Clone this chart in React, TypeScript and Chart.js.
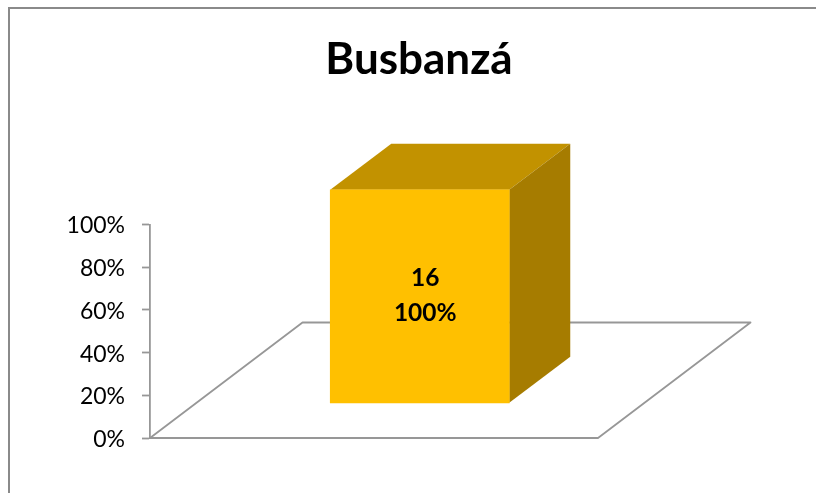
import React, { useEffect, useRef } from "react";
import { Chart, registerables } from "chart.js";

Chart.register(...registerables);

const categories = ["Busbanzá"];
const percentValues = [100];
const countValues = [16];
const yTickStep = 20;

const FONT = "Lato, Carlito, 'Open Sans', sans-serif";
const DEPTH_X = 152.5;
const DEPTH_Y = 115.5;
const BAR_FRONT = 0.3;
const BAR_BACK = 0.7;
const FRONT_COLOR = "#FFC000";
const TOP_COLOR = "#C29200";
const SIDE_COLOR = "#A67C00";
const LINE_COLOR = "#979797";
const FRAME_COLOR = "#8A8A8A";

const poly = (ctx: CanvasRenderingContext2D, pts: number[][], fill: string) => {
  ctx.beginPath();
  pts.forEach(([x, y], i) => (i ? ctx.lineTo(x, y) : ctx.moveTo(x, y)));
  ctx.closePath();
  ctx.fillStyle = fill;
  ctx.fill();
};

const bar3d = {
  id: "bar3d",
  beforeDraw(chart: any) {
    const { ctx } = chart;
    ctx.save();
    ctx.strokeStyle = FRAME_COLOR;
    ctx.lineWidth = 2;
    ctx.beginPath();
    ctx.moveTo(9, 493);
    ctx.lineTo(9, 8);
    ctx.lineTo(816, 8);
    ctx.stroke();
    ctx.fillStyle = "#000";
    ctx.font = `bold 44px ${FONT}`;
    ctx.textAlign = "center";
    ctx.textBaseline = "alphabetic";
    ctx.fillText(categories[0], 419, 74);
    ctx.restore();
  },
  beforeDatasetsDraw(chart: any) {
    const { ctx, chartArea: a } = chart;
    ctx.save();
    ctx.strokeStyle = LINE_COLOR;
    ctx.lineWidth = 1.8;
    ctx.lineJoin = "round";
    ctx.beginPath();
    ctx.moveTo(a.left, a.bottom);
    ctx.lineTo(a.left + DEPTH_X, a.bottom - DEPTH_Y);
    ctx.lineTo(a.right + DEPTH_X, a.bottom - DEPTH_Y);
    ctx.lineTo(a.right, a.bottom);
    ctx.closePath();
    ctx.stroke();
    ctx.restore();
  },
  beforeDatasetDraw(chart: any, args: any) {
    const { ctx } = chart;
    const el = chart.getDatasetMeta(args.index).data[0];
    const p = el.getProps(["x", "y", "base", "width"]);
    const fx = DEPTH_X * BAR_FRONT;
    const fy = -DEPTH_Y * BAR_FRONT;
    const bx = DEPTH_X * BAR_BACK;
    const by = -DEPTH_Y * BAR_BACK;
    const l = p.x - p.width / 2;
    const r = p.x + p.width / 2;
    poly(ctx, [
      [l + fx, p.y + fy],
      [r + fx, p.y + fy],
      [r + bx, p.y + by],
      [l + bx, p.y + by],
    ], TOP_COLOR);
    poly(ctx, [
      [r + fx, p.y + fy],
      [r + bx, p.y + by],
      [r + bx, p.base + by],
      [r + fx, p.base + fy],
    ], SIDE_COLOR);
    ctx.save();
    ctx.translate(fx, fy);
  },
  afterDatasetDraw(chart: any, args: any) {
    const { ctx } = chart;
    ctx.restore();
    const el = chart.getDatasetMeta(args.index).data[0];
    const p = el.getProps(["x", "y", "base"]);
    const cx = p.x + DEPTH_X * BAR_FRONT + 5.5;
    const cy = (p.y + p.base) / 2 - DEPTH_Y * BAR_FRONT;
    ctx.save();
    ctx.fillStyle = "#000";
    ctx.font = `bold 24.5px ${FONT}`;
    ctx.textAlign = "center";
    ctx.textBaseline = "middle";
    ctx.fillText(String(countValues[0]), cx, cy - 18.5);
    ctx.fillText(`${percentValues[0]}%`, cx, cy + 17);
    ctx.restore();
  },
};

export default function App() {
  const ref = useRef<HTMLCanvasElement>(null);
  useEffect(() => {
    const chart = new Chart(ref.current!, {
      type: "bar",
      data: {
        labels: categories,
        datasets: [
          {
            data: percentValues,
            backgroundColor: FRONT_COLOR,
            borderWidth: 0,
            barThickness: 179,
            clip: false,
          } as any,
        ],
      },
      options: {
        animation: false,
        responsive: false,
        layout: { padding: { left: 0, right: 218, bottom: 55, top: 224.5 } },
        plugins: {
          legend: { display: false },
          tooltip: { enabled: false },
          title: { display: false },
        },
        scales: {
          x: { display: false },
          y: {
            min: 0,
            max: 100,
            afterFit: (s: any) => {
              s.width = 150;
            },
            border: { display: true, color: LINE_COLOR, width: 1.8 },
            grid: {
              drawOnChartArea: false,
              drawTicks: true,
              tickLength: 8,
              tickColor: LINE_COLOR,
              tickWidth: 1.8,
            },
            ticks: {
              stepSize: yTickStep,
              color: "#000",
              padding: 17,
              font: { family: FONT, size: 23, lineHeight: "3px" },
              callback: (v: any) => ["", `${v}%`],
            },
          },
        },
      },
      plugins: [bar3d],
    } as any);
    return () => chart.destroy();
  }, []);
  return (
    <div style={{ position: "absolute", left: 0, top: 0, width: 816, height: 493, background: "#fff" }}>
      <canvas ref={ref} width={816} height={493} style={{ display: "block" }} />
    </div>
  );
}
